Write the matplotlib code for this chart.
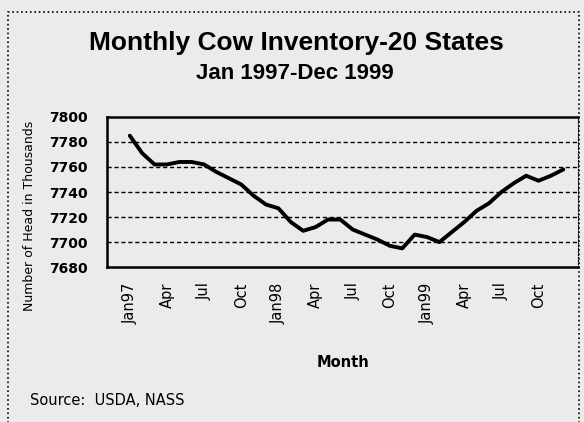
import numpy as np
import matplotlib.pyplot as plt
from matplotlib.patches import Rectangle

# monthly cow inventory, 20 states, thousand head
months = ['Jan97', 'Feb', 'Mar', 'Apr', 'May', 'Jun', 'Jul', 'Aug', 'Sep', 'Oct', 'Nov', 'Dec',
          'Jan98', 'Feb', 'Mar', 'Apr', 'May', 'Jun', 'Jul', 'Aug', 'Sep', 'Oct', 'Nov', 'Dec',
          'Jan99', 'Feb', 'Mar', 'Apr', 'May', 'Jun', 'Jul', 'Aug', 'Sep', 'Oct', 'Nov', 'Dec']
cows = [7785, 7771, 7762, 7762, 7764, 7764, 7762, 7756, 7751, 7746, 7737, 7730,
        7727, 7716, 7709, 7712, 7718, 7718, 7710, 7706, 7702, 7697, 7695, 7706,
        7704, 7700, 7708, 7716, 7725, 7731, 7740, 7747, 7753, 7749, 7753, 7758]
tick_idx = [0, 3, 6, 9, 12, 15, 18, 21, 24, 27, 30, 33]
yticks = [7680, 7700, 7720, 7740, 7760, 7780, 7800]

plt.rcParams['font.family'] = ['DejaVu Sans']
bg = '#ebebeb'
title_font = ['Liberation Sans', 'DejaVu Sans']

fig = plt.figure(figsize=(5.84, 4.22), dpi=100, facecolor=bg)
ax = fig.add_axes([0.183, 0.367, 0.807, 0.356], facecolor=bg)

x = np.arange(len(cows))
ax.plot(x, cows, color='black', linewidth=2.8, solid_capstyle='round')

ax.set_ylim(7680, 7800)
ax.set_xlim(-1.85, 36.2)
ax.set_yticks(yticks)
ax.set_yticklabels([str(v) for v in yticks], fontsize=10, fontweight='bold')
ax.set_xticks(tick_idx)
ax.set_xticklabels([months[i] for i in tick_idx], rotation=90, fontsize=10.5)
ax.tick_params(axis='y', length=0, pad=14)
ax.tick_params(axis='x', length=0, pad=11)
for v in yticks[1:-1]:
    ax.axhline(v, color='black', linestyle=(0, (3, 2)), linewidth=1.0)
for side in ['left', 'top', 'bottom']:
    ax.spines[side].set_linewidth(1.8)
ax.spines['right'].set_linestyle(':')

fig.text(0.587, 0.14, 'Month', fontsize=10.5, fontweight='bold', ha='center', va='center')
fig.text(0.051, 0.488, 'Number of Head in Thousands', rotation=90, fontsize=9,
         ha='center', va='center')

fig.text(0.507, 0.897, 'Monthly Cow Inventory-20 States', fontsize=19, fontweight='bold',
         ha='center', va='center', family=title_font)
fig.text(0.505, 0.825, 'Jan 1997-Dec 1999', fontsize=16, fontweight='bold',
         ha='center', va='center', family=title_font)
fig.text(0.052, 0.05, 'Source:  USDA, NASS', fontsize=10.5, ha='left', va='center')

fig.patches.append(Rectangle((0.014, -0.01), 0.978, 0.982, transform=fig.transFigure,
                             fill=False, linestyle=':', linewidth=1.2, edgecolor='black'))

fig.savefig('out.png', dpi=100, facecolor=bg)
